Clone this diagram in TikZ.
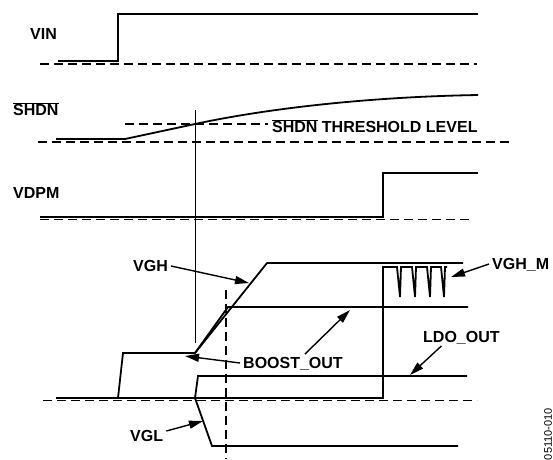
\documentclass[tikz,border=0pt]{standalone}
\usepackage{fontspec}
\setmainfont{Liberation Sans}
\usetikzlibrary{arrows.meta}
\tikzset{
  signal/.style={
    line width=1.8pt,
  },
  level/.style={
    line width=1.2pt,
    dash pattern=on 9pt off 5pt,
  },
  marker/.style={
    line width=0.9pt,
  },
  tag/.style={
    anchor=west,
    inner sep=3pt,
    text height=11.5pt,
    text depth=0pt,
  },
  pointer/.style={
    line width=1.4pt,
    -{Triangle[length=14pt,width=8pt]},
  }
}
\newcommand{\barred}[1]{$\overline{\mbox{#1}}$}

\begin{document}
\begin{tikzpicture}[x=1pt, y=-1pt, font=\fontsize{16}{18}\selectfont\bfseries]
        \useasboundingbox (0,0) rectangle (553,459);

        \node [tag] (vin) at (27,34) {VIN};
        \node [tag] (shdn) at (10,110) {\barred{SHDN}};
        \node [tag] (thr) at (269,127) {\barred{SHDN} THRESHOLD LEVEL};
        \node [tag] (vdpm) at (10,193) {VDPM};
        \node [tag] (vgh) at (130,266) {VGH};
        \node [tag] (vghm) at (489,264) {VGH\_M};
        \node [tag] (boost) at (240,363) {BOOST\_OUT};
        \node [tag] (ldo) at (420,337) {LDO\_OUT};
        \node [tag] (vgl) at (127,436) {VGL};
        \node [rotate=90, anchor=east, inner sep=0pt, font=\fontsize{11}{12}\selectfont] (code) at (548,408) {05110-010};

        \draw [signal] (58,61) -- (118,61) -- (118,14) -- (478,14);
        \draw [level] (40,64) -- (477,64);

        \draw [signal] (56,139) -- (125,139) -- (195,124) .. controls (260,110) and (360,97) .. (478,95);
        \draw [level] (125,124) -- (268,124);
        \draw [level] (38,142) -- (513,142);

        \draw [signal] (40,217) -- (383,217) -- (383,173) -- (478,173);
        \draw [level] (40,219.5) -- (473,219.5);

        \draw [marker] (195,110) -- (195,343);
        \draw [level] (226,290) -- (226,459);

        \draw [signal] (56,398) -- (118,398) -- (123,353) -- (195,353) -- (228,307) -- (468,307);
        \draw [signal] (195,353) -- (267,263) -- (463,263);
        \draw [signal] (118,398) -- (383,398) -- (383,267)
            \foreach \t in {397,412,427,441} { -- (\t,267) -- (\t+3,297) -- (\t+4,267) } -- (447,267);
        \draw [signal] (195,398) -- (198,376) -- (467,376);
        \draw [signal] (195,398) -- (212,446) -- (458,446);
        \draw [level] (43,400.5) -- (477,400.5);

        \coordinate (vgh tip) at (249,283);
        \coordinate (vghm tip) at (451,277);
        \coordinate (boost tip) at (185,356);
        \coordinate (boost tip2) at (350,310);
        \coordinate (ldo tip) at (410,375);
        \coordinate (vgl tip) at (203,421);

        \draw [pointer] (vgh.east) -- (vgh tip);
        \draw [pointer] (vghm.west) -- (vghm tip);
        \draw [pointer] (boost.west) -- (boost tip);
        \draw [pointer] ([xshift=12pt]boost.north) -- (boost tip2);
        \draw [pointer] ([xshift=-20pt]ldo.south) -- (ldo tip);
        \draw [pointer] ([yshift=5pt]vgl.east) -- (vgl tip);
    \end{tikzpicture}
\end{document}
